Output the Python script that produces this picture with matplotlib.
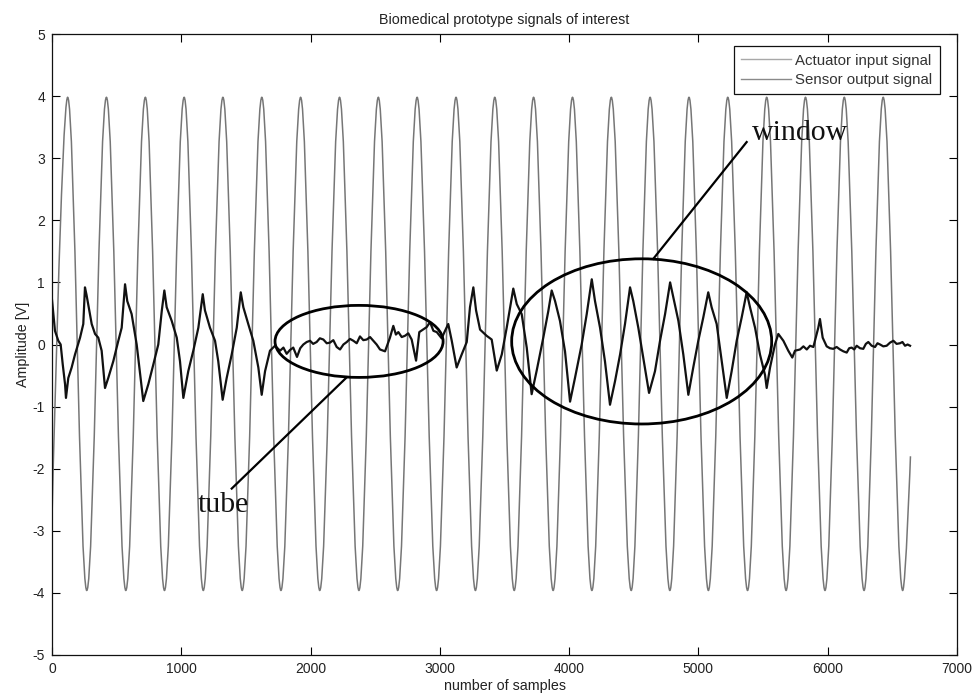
import matplotlib
matplotlib.use("Agg")
import matplotlib.pyplot as plt
from matplotlib.path import Path
from matplotlib.patches import PathPatch, Ellipse
from matplotlib.lines import Line2D

plt.rcParams['font.family'] = ['Liberation Sans', 'DejaVu Sans']
plt.rcParams['axes.unicode_minus'] = False

title_text = "Biomedical prototype signals of interest"
x_label = "number of samples"
y_label = "Amplitude [V]"
series_names = ["Actuator input signal", "Sensor output signal"]
x_ticks = [0, 1000, 2000, 3000, 4000, 5000, 6000, 7000]
y_ticks = [-5, -4, -3, -2, -1, 0, 1, 2, 3, 4, 5]

# Actuator input signal: crest / trough positions (sample index) and levels [V]
act_start = (0, -2.8)
act_end = (6640, -1.8)
act_peak_samples = [121, 421, 722, 1022, 1322, 1623, 1923, 2224, 2524, 2824, 3125,
                    3425, 3725, 4026, 4326, 4626, 4927, 5227, 5528, 5828, 6128, 6429]
act_peak_values = [3.98, 3.98, 3.98, 3.98, 3.98, 3.98, 3.98, 3.98, 3.98, 3.98, 3.98,
                   3.98, 3.98, 3.98, 3.98, 3.98, 3.98, 3.98, 3.98, 3.98, 3.98, 3.98]
act_trough_samples = [269, 571, 870, 1170, 1471, 1771, 2071, 2374, 2674, 2975, 3275,
                      3575, 3876, 4176, 4480, 4779, 5077, 5380, 5678, 5979, 6281, 6580]
act_trough_values = [-3.96, -3.96, -3.96, -3.96, -3.96, -3.96, -3.96, -3.96, -3.96, -3.96, -3.96,
                     -3.96, -3.96, -3.96, -3.96, -3.96, -3.96, -3.96, -3.96, -3.96, -3.96, -3.96]

# Sensor output signal
sensor_samples = [
    0, 23, 49, 67, 83, 101, 108, 126, 152, 178, 217, 242, 255, 267, 289, 307, 333, 358,
    384, 410, 435, 474, 513, 539, 565, 582, 616, 655, 706, 745, 784, 822, 849, 869, 887,
    926, 965, 990, 1016, 1054, 1093, 1132, 1166, 1183, 1222, 1261, 1286, 1320, 1351,
    1390, 1429, 1460, 1480, 1518, 1557, 1596, 1622, 1648, 1686, 1725, 1764, 1790, 1815,
    1840, 1866, 1895, 1920, 1944, 1970, 1996, 2020, 2047, 2072, 2099, 2125, 2150, 2176,
    2202, 2228, 2254, 2280, 2305, 2331, 2357, 2382, 2408, 2434, 2460, 2485, 2511, 2537,
    2576, 2614, 2640, 2660, 2679, 2705, 2730, 2756, 2782, 2816, 2841, 2870, 2898, 2924,
    2950, 2976, 3014, 3040, 3065, 3092, 3130, 3169, 3208, 3233, 3259, 3280, 3311, 3362,
    3401, 3440, 3479, 3517, 3568, 3595, 3633, 3672, 3710, 3749, 3800, 3839, 3865, 3891,
    3929, 3968, 4007, 4045, 4097, 4136, 4175, 4200, 4239, 4277, 4316, 4355, 4394, 4432,
    4471, 4496, 4535, 4574, 4618, 4664, 4703, 4742, 4781, 4806, 4845, 4883, 4922, 4960,
    4999, 5038, 5076, 5102, 5141, 5180, 5219, 5257, 5296, 5335, 5373, 5399, 5438, 5476,
    5515, 5528, 5554, 5592, 5618, 5657, 5695, 5726, 5747, 5786, 5812, 5838, 5863, 5889,
    5927, 5940, 5961, 5992, 6017, 6043, 6069, 6095, 6121, 6147, 6166, 6185, 6205, 6224,
    6250, 6275, 6295, 6314, 6340, 6366, 6385, 6405, 6430, 6456, 6482, 6508, 6533, 6559,
    6578, 6598, 6618, 6637]
sensor_values = [
    0.72, 0.22, 0.06, 0.00, -0.32, -0.64, -0.86, -0.54, -0.37, -0.16, 0.11, 0.33, 0.92, 0.80,
    0.54, 0.33, 0.17, 0.11, -0.10, -0.70, -0.54, -0.27, 0.06, 0.27, 0.97, 0.70, 0.49, 0.00,
    -0.91, -0.64, -0.32, 0.00, 0.54, 0.87, 0.60, 0.38, 0.11, -0.27, -0.86, -0.43, -0.10,
    0.27, 0.81, 0.55, 0.27, 0.06, -0.27, -0.89, -0.54, -0.16, 0.27, 0.84, 0.60, 0.33, 0.06,
    -0.37, -0.81, -0.43, -0.10, -0.02, -0.10, -0.05, -0.15, -0.09, -0.05, -0.20, -0.06,
    0.00, 0.04, 0.06, 0.01, 0.04, 0.10, 0.08, 0.02, 0.03, 0.07, -0.04, -0.08, 0.00, 0.04,
    0.09, 0.06, 0.02, 0.13, 0.07, 0.08, 0.12, 0.06, 0.00, -0.08, -0.11, 0.11, 0.30, 0.16,
    0.20, 0.12, 0.14, 0.18, 0.08, -0.26, 0.20, 0.24, 0.28, 0.36, 0.22, 0.20, 0.10, 0.22,
    0.33, 0.06, -0.37, -0.16, 0.04, 0.60, 0.92, 0.55, 0.24, 0.14, 0.08, -0.42, -0.16, 0.27,
    0.90, 0.65, 0.49, -0.05, -0.80, -0.42, 0.11, 0.54, 0.87, 0.70, 0.38, -0.11, -0.92,
    -0.54, 0.00, 0.49, 1.05, 0.70, 0.27, -0.27, -0.97, -0.59, -0.16, 0.33, 0.92, 0.70,
    0.27, -0.22, -0.78, -0.43, 0.06, 0.49, 1.00, 0.76, 0.38, -0.16, -0.81, -0.37, 0.06,
    0.44, 0.84, 0.60, 0.33, -0.27, -0.86, -0.43, 0.06, 0.44, 0.84, 0.60, 0.27, -0.16,
    -0.49, -0.70, -0.37, 0.00, 0.17, 0.06, -0.10, -0.21, -0.10, -0.08, -0.03, -0.08, -0.02,
    -0.04, 0.27, 0.41, 0.11, -0.03, -0.06, -0.07, -0.04, -0.08, -0.11, -0.13, -0.06, -0.05,
    -0.08, -0.02, -0.06, -0.07, 0.01, 0.04, -0.02, -0.04, 0.02, 0.00, -0.03, -0.02, 0.03,
    0.06, 0.01, 0.02, 0.04, -0.02, 0.00, -0.02]

# Highlighted regions: (centre sample, centre amplitude, width in samples, height in V)
tube_region = (2375, 0.05, 1300, 1.16)
window_region = (4561, 0.05, 2011, 2.66)
tube_label = "tube"
window_label = "window"


def smooth_wave(xs, ys, k=0.363):
    """Cubic Bezier path through successive extrema with flat tangents at each crest/trough."""
    verts = [(xs[0], ys[0])]
    codes = [Path.MOVETO]
    n = len(xs)
    for i in range(1, n):
        x0, y0, x1, y1 = xs[i - 1], ys[i - 1], xs[i], ys[i]
        dx = x1 - x0
        c1 = (x0 + k * dx, y0) if i > 1 else (x0, y0)
        c2 = (x1 - k * dx, y1) if i < n - 1 else (x1, y1)
        verts += [c1, c2, (x1, y1)]
        codes += [Path.CURVE4] * 3
    return Path(verts, codes)


ext = sorted(list(zip(act_peak_samples, act_peak_values)) +
             list(zip(act_trough_samples, act_trough_values)))
act_x = [act_start[0]] + [p[0] for p in ext] + [act_end[0]]
act_y = [act_start[1]] + [p[1] for p in ext] + [act_end[1]]

W, H = 974, 695
fig = plt.figure(figsize=(W / 100, H / 100), dpi=100)
ax = fig.add_axes([52 / W, 1 - 655 / H, (957 - 52) / W, (655 - 34) / H])

act_color = '#767676'
sen_color = '#111111'
ax.add_patch(PathPatch(smooth_wave(act_x, act_y), facecolor='none',
                       edgecolor=act_color, lw=1.1, zorder=2))
ax.plot(sensor_samples, sensor_values, color=sen_color, lw=1.6, zorder=3)

# annotation ellipses, leader lines and labels
for cx, cy, w, h in (tube_region, window_region):
    ax.add_patch(Ellipse((cx, cy), w, h, facecolor='none', edgecolor='black',
                         lw=2.0, zorder=4))
ax.plot([2279, 1390], [-0.53, -2.32], color='black', lw=1.6, zorder=4)
ax.plot([4651, 5373], [1.38, 3.26], color='black', lw=1.6, zorder=4)
serif = ['Liberation Serif', 'DejaVu Serif']
ax.text(1129, -2.69, tube_label, family=serif, fontsize=21.5, ha='left',
        va='baseline', color='#111111', zorder=5)
ax.text(5412, 3.30, window_label, family=serif, fontsize=21.5, ha='left',
        va='baseline', color='#111111', zorder=5)

ax.set_xlim(x_ticks[0], x_ticks[-1])
ax.set_ylim(y_ticks[0], y_ticks[-1])
ax.set_xticks(x_ticks)
ax.set_yticks(y_ticks)
ax.tick_params(direction='in', top=True, right=True, length=6, width=0.8,
               labelsize=10, labelcolor='#222222', pad=5)
for s in ax.spines.values():
    s.set_linewidth(0.9)
    s.set_color('#111111')

ax.set_title(title_text, fontsize=10.3, color='#222222', pad=7)
ax.set_xlabel(x_label, fontsize=10.3, color='#222222', labelpad=2)
ax.set_ylabel(y_label, fontsize=10.3, color='#222222', labelpad=2)

handles = [Line2D([], [], color='#a8a8a8', lw=1.0),
           Line2D([], [], color='#8a8a8a', lw=1.0)]
leg = ax.legend(handles, series_names, loc='upper right',
                bbox_to_anchor=((940 - 52) / 905, (655 - 46) / 621),
                borderaxespad=0, fancybox=False, framealpha=1, edgecolor='#111111',
                fontsize=10.8, handlelength=3.3, handletextpad=0.3,
                labelspacing=0.35, borderpad=0.5)
leg.get_frame().set_linewidth(0.9)
for t in leg.get_texts():
    t.set_color('#333333')

fig.savefig('out.png', dpi=100, facecolor='white')
